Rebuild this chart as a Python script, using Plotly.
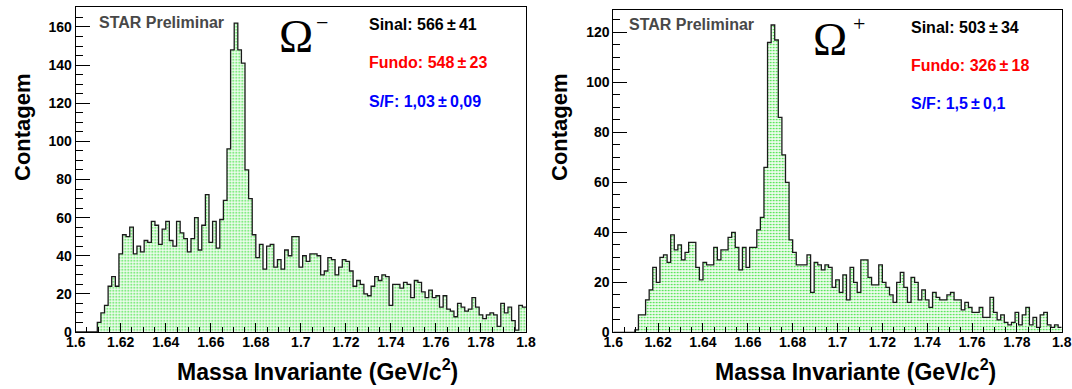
import numpy as np
import plotly.graph_objects as go

W, H = 1072, 389

# ---- data -------------------------------------------------------------
bin_lo = 1.6
bin_width = 0.0016
x_tick_vals = [1.6, 1.62, 1.64, 1.66, 1.68, 1.7, 1.72, 1.74, 1.76, 1.78, 1.8]

counts_omega_minus = [
    0, 0, 0, 0, 0, 0, 5, 10, 14, 24,
    29, 24, 41, 51, 50, 55, 41, 45, 42, 48,
    47, 58, 56, 46, 54, 58, 48, 45, 58, 52,
    49, 42, 49, 60, 43, 56, 72, 47, 58, 44,
    59, 69, 96, 148, 162, 148, 141, 85, 70, 51,
    39, 46, 33, 45, 46, 34, 38, 33, 43, 40,
    50, 50, 34, 40, 37, 41, 41, 40, 30, 32,
    39, 38, 30, 34, 38, 37, 32, 24, 27, 25,
    20, 19, 24, 29, 27, 30, 29, 14, 25, 25,
    23, 26, 25, 18, 27, 26, 21, 18, 22, 18,
    19, 13, 19, 12, 11, 8, 15, 13, 11, 12,
    18, 13, 9, 7, 9, 10, 9, 3, 15, 10,
    13, 6, 1, 14, 13,
]

counts_omega_plus = [
    0, 0, 0, 0, 0, 0, 1, 7, 7, 13,
    17, 26, 20, 30, 31, 28, 39, 33, 35, 29,
    32, 36, 36, 26, 21, 28, 27, 27, 34, 29,
    33, 33, 38, 40, 34, 25, 34, 26, 34, 34,
    41, 46, 66, 116, 123, 117, 86, 71, 60, 37,
    32, 27, 27, 27, 31, 16, 28, 27, 25, 27,
    26, 18, 21, 16, 23, 13, 26, 20, 16, 29,
    29, 22, 19, 19, 27, 20, 18, 15, 12, 20,
    24, 18, 12, 22, 20, 13, 17, 13, 10, 16,
    14, 13, 13, 15, 16, 13, 13, 9, 12, 10,
    8, 8, 10, 6, 6, 14, 8, 5, 7, 4,
    3, 4, 8, 3, 7, 10, 3, 6, 2, 7,
    8, 3, 2, 3, 2,
]

y_max_minus = 170.3
y_max_plus = 129.0

TS = "\u2009"  # thin space around the plus-minus sign
labels_minus = [f"Sinal: 566{TS}\u00b1{TS}41", f"Fundo: 548{TS}\u00b1{TS}23", f"S/F: 1,03{TS}\u00b1{TS}0,09"]
labels_plus = [f"Sinal: 503{TS}\u00b1{TS}34", f"Fundo: 326{TS}\u00b1{TS}18", f"S/F: 1,5{TS}\u00b1{TS}0,1"]
label_colors = ["#000000", "#ff0000", "#0000ff"]

# ---- figure -----------------------------------------------------------
fig = go.Figure()

def step_xy(counts):
    n = len(counts)
    edges = bin_lo + bin_width * np.arange(n + 1)
    ys = list(counts) + [counts[-1]]
    return edges, ys

pattern = dict(shape=".", fgcolor="#35e035", bgcolor="#effcef", size=3, solidity=0.25)

for counts, xa, ya in [(counts_omega_minus, "x", "y"), (counts_omega_plus, "x2", "y2")]:
    xs, ys = step_xy(counts)
    fig.add_trace(go.Scatter(
        x=xs, y=ys, mode="lines", line=dict(shape="hv", color="#1a1a1a", width=1.3),
        fill="tozeroy", fillcolor="#d0f5d0", fillpattern=pattern,
        xaxis=xa, yaxis=ya, showlegend=False, hoverinfo="skip",
    ))

def px(x):
    return x / W

def py(y):
    return 1 - y / H

tickfont = dict(family="Liberation Sans, Arial, sans-serif", size=14, color="black", weight="bold")

def xaxis_cfg(x0, x1, anchor):
    return dict(
        domain=[px(x0), px(x1)], range=[1.6, 1.8], anchor=anchor, automargin=False,
        tickvals=x_tick_vals, ticktext=[f"{v:g}" for v in x_tick_vals],
        ticks="inside", ticklen=9, tickwidth=1, tickcolor="black",
        ticklabelstandoff=-3,
        minor=dict(ticks="inside", ticklen=5, dtick=0.005, tick0=1.6, tickcolor="black", tickwidth=1),
        showline=True, linecolor="black", linewidth=1, mirror=True,
        showgrid=False, zeroline=False, tickfont=tickfont,
    )

def yaxis_cfg(y0, y1, ymax, anchor):
    return dict(
        domain=[py(y1), py(y0)], range=[0, ymax], anchor=anchor, automargin=False,
        dtick=20, tick0=0,
        ticks="inside", ticklen=14, tickwidth=1, tickcolor="black",
        minor=dict(ticks="inside", ticklen=7, dtick=5, tick0=0, tickcolor="black", tickwidth=1),
        showline=True, linecolor="black", linewidth=1, mirror=True,
        showgrid=False, zeroline=False, tickfont=tickfont,
    )

fig.update_layout(
    template="none",
    width=W, height=H,
    margin=dict(l=0, r=0, t=0, b=0, pad=0),
    paper_bgcolor="white", plot_bgcolor="white",
    xaxis=xaxis_cfg(75.7, 526.0, "y"),
    yaxis=yaxis_cfg(7.3, 332.0, y_max_minus, "x"),
    xaxis2=xaxis_cfg(613.3, 1061.7, "y2"),
    yaxis2=yaxis_cfg(10.0, 332.3, y_max_plus, "x2"),
)

ann = []
sans = "Liberation Sans, Arial, sans-serif"
serif = "Liberation Serif, Times New Roman, serif"

def add_text(text, x, y, size, color="black", family=sans, xanchor="center", angle=0):
    ann.append(dict(text=text, x=px(x), y=py(y), xref="paper", yref="paper",
                    xanchor=xanchor, yanchor="middle", showarrow=False, textangle=angle,
                    font=dict(family=family, size=size, color=color)))

for right, labels, om_sign, star_y, om_x, om_y, sign_x, sign_y, lab_x, lab_ys in [
    (False, labels_minus, "\u2212", 22, 296, 37, 322, 22, 367, [25, 62, 101]),
    (True, labels_plus, "+", 25, 830, 39, 859, 24, 909, [27, 65, 103]),
]:
    add_text("<b>STAR Preliminar</b>", 627 if right else 97, star_y, 16, "#484848", xanchor="left")
    add_text("\u03a9", om_x, om_y, 46, "black", serif)
    add_text(om_sign, sign_x, sign_y, 22, "black", serif)
    for lab, col, yy in zip(labels, label_colors, lab_ys):
        add_text(f"<b>{lab}</b>", lab_x, yy, 16, col, xanchor="left")

add_text("<b>Contagem</b>", 22, 127, 22, angle=-90)
add_text("<b>Contagem</b>", 559, 127, 22, angle=-90)
add_text("<b>Massa Invariante (GeV/c<sup>2</sup>)</b>", 317, 370, 23)
add_text("<b>Massa Invariante (GeV/c<sup>2</sup>)</b>", 855, 370, 23)

fig.update_layout(annotations=ann)

fig.write_html("out.html")
